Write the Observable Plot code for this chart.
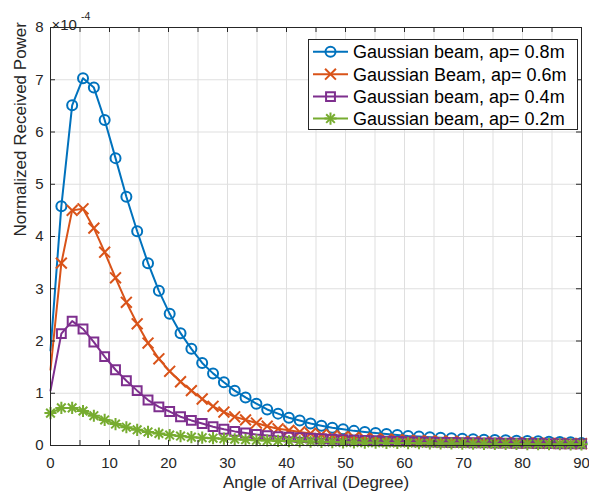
<!DOCTYPE html>
<html><head><meta charset="utf-8">
<script src="https://cdn.jsdelivr.net/npm/d3@7"></script>
<script src="https://cdn.jsdelivr.net/npm/@observablehq/plot@0.6"></script>
<style>
html,body{margin:0;padding:0;background:#fff;}
#wrap{position:relative;width:589px;height:497px;}
#legend{position:absolute;left:308px;top:39px;width:270px;height:91px;background:#fff;border:1px solid #262626;box-sizing:border-box;}
#legend svg{display:block;}
</style></head><body><div id="wrap"></div>
<script>
// Angle of arrival (degrees)
const angles = [0, 1.84, 3.67, 5.51, 7.35, 9.18, 11.02, 12.86, 14.69, 16.53, 18.37, 20.20, 22.04, 23.88, 25.71, 27.55, 29.39, 31.22, 33.06, 34.90, 36.73, 38.57, 40.41, 42.24, 44.08, 45.92, 47.76, 49.59, 51.43, 53.27, 55.10, 56.94, 58.78, 60.61, 62.45, 64.29, 66.12, 67.96, 69.80, 71.63, 73.47, 75.31, 77.14, 78.98, 80.82, 82.65, 84.49, 86.33, 88.16, 90];
// Normalized received power, in units of 1e-4
const power08 = [1.82, 4.58, 6.51, 7.03, 6.85, 6.23, 5.50, 4.76, 4.10, 3.49, 2.96, 2.52, 2.15, 1.85, 1.58, 1.38, 1.21, 1.05, 0.92, 0.80, 0.69, 0.61, 0.53, 0.48, 0.42, 0.38, 0.34, 0.31, 0.28, 0.26, 0.24, 0.22, 0.20, 0.18, 0.17, 0.16, 0.15, 0.14, 0.13, 0.12, 0.11, 0.105, 0.10, 0.09, 0.085, 0.08, 0.07, 0.065, 0.06, 0.05];
const power06 = [1.45, 3.49, 4.50, 4.53, 4.16, 3.70, 3.21, 2.74, 2.33, 1.96, 1.66, 1.42, 1.22, 1.05, 0.89, 0.75, 0.64, 0.55, 0.49, 0.43, 0.37, 0.32, 0.29, 0.26, 0.23, 0.21, 0.19, 0.17, 0.155, 0.14, 0.13, 0.12, 0.11, 0.10, 0.095, 0.09, 0.085, 0.08, 0.075, 0.07, 0.065, 0.06, 0.055, 0.05, 0.048, 0.045, 0.042, 0.04, 0.038, 0.035];
const power04 = [1.05, 2.14, 2.38, 2.23, 1.98, 1.70, 1.45, 1.24, 1.05, 0.87, 0.74, 0.65, 0.55, 0.48, 0.42, 0.36, 0.31, 0.27, 0.24, 0.21, 0.19, 0.17, 0.16, 0.15, 0.14, 0.13, 0.12, 0.11, 0.10, 0.095, 0.09, 0.085, 0.08, 0.075, 0.07, 0.065, 0.06, 0.058, 0.055, 0.052, 0.05, 0.048, 0.045, 0.042, 0.04, 0.038, 0.036, 0.034, 0.032, 0.03];
const power02 = [0.62, 0.72, 0.72, 0.66, 0.57, 0.49, 0.41, 0.35, 0.30, 0.26, 0.23, 0.20, 0.18, 0.16, 0.15, 0.14, 0.13, 0.12, 0.11, 0.10, 0.095, 0.09, 0.085, 0.08, 0.075, 0.07, 0.065, 0.06, 0.058, 0.055, 0.052, 0.05, 0.048, 0.046, 0.044, 0.042, 0.04, 0.038, 0.036, 0.034, 0.032, 0.03, 0.029, 0.028, 0.027, 0.026, 0.025, 0.024, 0.023, 0.022];

const seriesNames = ["Gaussian beam, ap= 0.8m", "Gaussian Beam, ap= 0.6m", "Gaussian beam, ap= 0.4m", "Gaussian beam, ap= 0.2m"];
const seriesColors = ["#0072BD", "#D95319", "#7E2F8E", "#77AC30"];
const seriesMarkers = ["circle", "times", "square", "asterisk"];
const firstMarkerIndex = [1, 1, 1, 0];

const xTicks = [0, 5, 10, 15, 20, 25, 30, 35, 40, 45, 50, 55, 60, 65, 70, 75, 80, 85, 90];
const xTickLabels = [0, 10, 20, 30, 40, 50, 60, 70, 80, 90];
const yTicks = [0, 1, 2, 3, 4, 5, 6, 7, 8];
const xLabel = "Angle of Arrival (Degree)";
const yLabel = "Normalized Received Power";
const exponentBase = "×10";
const exponentPower = "-4";

const W = 589, H = 497, mT = 27, mB = 52, mL = 50, mR = 8;
const frameW = W - mL - mR, frameH = H - mT - mB;
const ink = "#262626";
const lw = 2;
const markerR = {circle: 5, times: 5, square: 5, asterisk: 4};

const allSeries = [power08, power06, power04, power02].map((vals, s) => ({
  name: seriesNames[s], color: seriesColors[s], marker: seriesMarkers[s],
  rows: angles.map((a, i) => ({angle: a, power: vals[i], idx: i}))
}));

function markerMarks(s, data) {
  const base = {x: "angle", y: "power", stroke: s.color, strokeWidth: lw, fill: "none"};
  if (s.marker === "asterisk") {
    return [Plot.dot(data, {...base, symbol: "plus", r: markerR.asterisk}), Plot.dot(data, {...base, symbol: "times", r: markerR.asterisk})];
  }
  return [Plot.dot(data, {...base, symbol: s.marker, r: markerR[s.marker]})];
}

const marks = [
  Plot.gridX(xTicks, {stroke: "#dfdfdf", strokeOpacity: 1}),
  Plot.gridY(yTicks, {stroke: "#dfdfdf", strokeOpacity: 1}),
];
allSeries.forEach((s, k) => {
  marks.push(Plot.line(s.rows, {x: "angle", y: "power", stroke: s.color, strokeWidth: lw}));
  marks.push(...markerMarks(s, s.rows.filter(d => d.idx >= firstMarkerIndex[k])));
});
marks.push(
  Plot.frame({stroke: ink, strokeWidth: 1}),
  Plot.tickX(xTicks, {x: d => d, insetTop: frameH - 5, stroke: ink}),
  Plot.tickX(xTicks, {x: d => d, insetBottom: frameH - 5, stroke: ink}),
  Plot.tickY(yTicks, {y: d => d, insetRight: frameW - 5, stroke: ink}),
  Plot.tickY(yTicks, {y: d => d, insetLeft: frameW - 5, stroke: ink}),
  Plot.axisX(xTickLabels, {tickSize: 0, tickPadding: 12, fontSize: 15, label: null, tickFormat: d => String(d)}),
  Plot.axisY(yTicks, {tickSize: 0, tickPadding: 7, fontSize: 15, label: null, tickFormat: d => String(d)}),
  Plot.text([xLabel], {frameAnchor: "bottom", dy: 42, fontSize: 17, fill: ink}),
  Plot.text([yLabel], {frameAnchor: "left", rotate: -90, dx: -30, fontSize: 17, fill: ink}),
  Plot.text([exponentBase], {frameAnchor: "top-left", textAnchor: "start", dx: 1, dy: -8.5, fontSize: 15, fill: ink}),
  Plot.text([exponentPower], {frameAnchor: "top-left", textAnchor: "start", dx: 30.5, dy: -14.5, fontSize: 10.5, fill: ink})
);

const chart = Plot.plot({
  width: W, height: H, marginTop: mT, marginBottom: mB, marginLeft: mL, marginRight: mR,
  x: {domain: [0, 90]},
  y: {domain: [0, 8]},
  style: {fontFamily: "'Liberation Sans', Arial, Helvetica, sans-serif", color: ink, background: "#fff", overflow: "visible"},
  marks
});
const wrap = document.getElementById("wrap");
wrap.appendChild(chart);

// Legend (inside the axes, north-east)
const legend = document.createElement("div");
legend.id = "legend";
wrap.appendChild(legend);
const lsvg = d3.select(legend).append("svg").attr("width", 268).attr("height", 89);
const rowY = [11.7, 34.2, 56.6, 78.6];
const symTypes = {circle: d3.symbolCircle, times: d3.symbolTimes, square: d3.symbolSquare};
allSeries.forEach((s, k) => {
  const g = lsvg.append("g").attr("transform", `translate(0,${rowY[k]})`);
  g.append("line").attr("x1", 4).attr("x2", 39).attr("y1", 0).attr("y2", 0).attr("stroke", s.color).attr("stroke-width", lw);
  const mg = g.append("g").attr("transform", "translate(21.5,0)").attr("fill", "none").attr("stroke", s.color).attr("stroke-width", lw);
  if (s.marker === "asterisk") {
    const r = markerR.asterisk;
    mg.append("path").attr("d", d3.symbol(d3.symbolPlus, Math.PI * r * r)());
    mg.append("path").attr("d", d3.symbol(d3.symbolTimes, Math.PI * r * r)());
  } else {
    const r = markerR[s.marker];
    mg.append("path").attr("d", d3.symbol(symTypes[s.marker], Math.PI * r * r)());
  }
  g.append("text").attr("x", 44).attr("y", 0).attr("dy", "0.35em")
    .attr("font-family", "'Liberation Sans', Arial, Helvetica, sans-serif")
    .attr("font-size", 18).attr("fill", "#000").text(s.name);
});
</script></body></html>
